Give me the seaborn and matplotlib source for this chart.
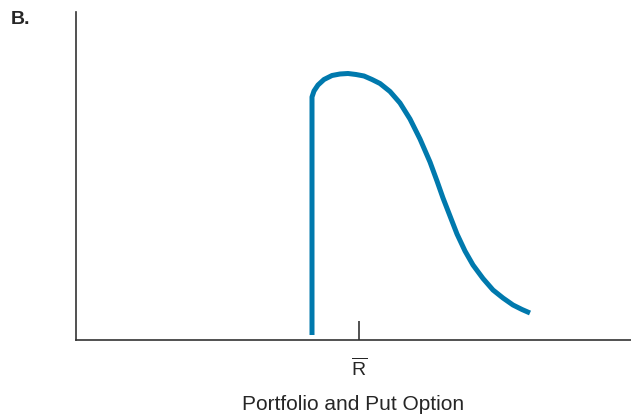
import matplotlib
matplotlib.use("Agg")
import matplotlib.pyplot as plt
import seaborn as sns
import pandas as pd

# Return axis (arbitrary units: 0..555) and density (0..328)
ret = [236, 236, 238, 242, 248, 256, 264, 272, 280, 288, 296, 304, 314, 324, 334,
       344, 354, 361, 367, 374, 381, 389, 397, 407, 417, 427, 437, 446, 454]
dens = [5, 243, 249, 255, 260.5, 264.5, 266, 266.5, 265.5, 264, 260.5, 256.5, 248.5,
        237, 221, 201, 178, 159, 142, 124, 106, 89, 75, 61.5, 50, 42, 35, 30.5, 27]
tick_pos = [283]
tick_labels = [r"$\overline{\mathsf{R}}$"]
xlabel = "Portfolio and Put Option"
panel = "B."

sns.set_style("white")
plt.rcParams['font.family'] = ['Liberation Sans', 'DejaVu Sans']
plt.rcParams['mathtext.fontset'] = 'custom'
plt.rcParams['mathtext.sf'] = 'Liberation Sans'
plt.rcParams['mathtext.rm'] = 'Liberation Sans'

fig = plt.figure(figsize=(6.31, 4.15), dpi=100)
ax = fig.add_axes([76/631, 75/415, 1 - 76/631, (340-12)/415])
df = pd.DataFrame({"r": ret, "d": dens})
sns.lineplot(data=df, x="r", y="d", sort=False, estimator=None, ax=ax,
             color="#0079AD", linewidth=3.6, solid_capstyle="butt",
             solid_joinstyle="round")
ax.set_xlim(0, 555)
ax.set_ylim(0, 328)
for s in ["top", "right"]:
    ax.spines[s].set_visible(False)
for s in ["left", "bottom"]:
    ax.spines[s].set_color("#333333")
    ax.spines[s].set_linewidth(1.2)
ax.set_yticks([])
ax.set_xticks(tick_pos)
ax.set_xticklabels(tick_labels, fontsize=14)
ax.tick_params(axis="x", direction="in", length=14, width=1.1, color="#222222",
               bottom=True, pad=12)
ax.set_xlabel(xlabel, fontsize=15, labelpad=11)
ax.set_ylabel("")
fig.text(11/631, 1 - 20/415, panel, fontsize=14, fontweight="bold", va="center")
fig.savefig("out.png", dpi=100)
